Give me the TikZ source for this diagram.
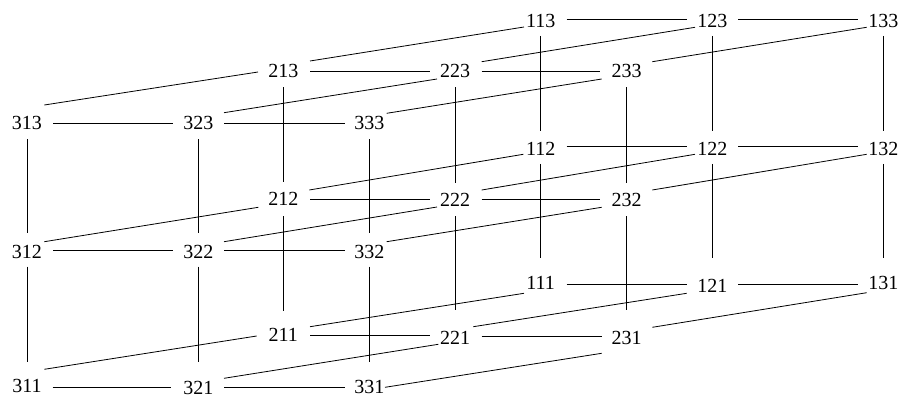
\documentclass[tikz,border=0pt]{standalone}
\usepackage{fontspec}
\setmainfont{Liberation Serif}
\usetikzlibrary{calc}
\tikzset{
  lbl/.style={inner sep=0pt, font=\fontsize{20}{24}\selectfont},
  edge/.style={line width=0.8pt, black}
}
\newcommand\seg[6]{\draw[edge] ($(#1)+(#2,#3)$) -- ($(#4)+(#5,#6)$);}
\begin{document}
\begin{tikzpicture}[x=1pt,y=-1pt]
\useasboundingbox (0,0) rectangle (905,401);
% layer 1
\node[lbl] (n113) at (540.7,21) {113};
\node[lbl] (n123) at (712.3,21) {123};
\node[lbl] (n133) at (883.3,21) {133};
\node[lbl] (n112) at (540.7,149) {112};
\node[lbl] (n122) at (712.3,149) {122};
\node[lbl] (n132) at (883.3,149) {132};
\node[lbl] (n111) at (540.7,283) {111};
\node[lbl] (n121) at (712.3,286) {121};
\node[lbl] (n131) at (883.3,283) {131};
% layer 2
\node[lbl] (n213) at (283.3,71) {213};
\node[lbl] (n223) at (455,71) {223};
\node[lbl] (n233) at (626.7,71) {233};
\node[lbl] (n212) at (283.3,199) {212};
\node[lbl] (n222) at (455,200) {222};
\node[lbl] (n232) at (626.7,200) {232};
\node[lbl] (n211) at (283.3,335) {211};
\node[lbl] (n221) at (455,338) {221};
\node[lbl] (n231) at (626.7,338) {231};
% layer 3
\node[lbl] (n313) at (27,123) {313};
\node[lbl] (n323) at (198.3,123) {323};
\node[lbl] (n333) at (369.3,123) {333};
\node[lbl] (n312) at (27,251.5) {312};
\node[lbl] (n322) at (198.3,251.5) {322};
\node[lbl] (n332) at (369.3,251.5) {332};
\node[lbl] (n311) at (27,386) {311};
\node[lbl] (n321) at (198.3,388) {321};
\node[lbl] (n331) at (369.3,387) {331};
% horizontal
\seg{n113}{26}{-2}{n123}{-25.6}{-2}
\seg{n123}{26}{-2}{n133}{-25}{-2}
\seg{n213}{26.7}{0}{n223}{-25}{0}
\seg{n223}{26.7}{0}{n233}{-26.7}{0}
\seg{n313}{26}{0}{n323}{-25.3}{0}
\seg{n323}{25.7}{0}{n333}{-24.6}{0}
\seg{n112}{26}{-2.3}{n122}{-25.6}{-2.3}
\seg{n122}{26}{-2.3}{n132}{-25}{-2.3}
\seg{n212}{26.7}{0}{n222}{-25}{-1}
\seg{n222}{26.7}{-1}{n232}{-26.7}{-1}
\seg{n312}{26}{-0.8}{n322}{-25.3}{-0.8}
\seg{n322}{25.7}{-0.8}{n332}{-24.6}{-0.8}
\seg{n111}{26}{1}{n121}{-25.6}{-2}
\seg{n121}{26}{-2}{n131}{-25}{1}
\seg{n211}{26.7}{0.7}{n221}{-25}{-2.3}
\seg{n221}{26.7}{-2}{n231}{-25}{-2}
\seg{n311}{25.7}{1.3}{n321}{-27.6}{-0.7}
\seg{n321}{25.7}{-0.7}{n331}{-24.3}{0.3}
% vertical
\seg{n313}{0}{16.3}{n312}{0}{-18.2}
\seg{n323}{0}{16.3}{n322}{0}{-18.2}
\seg{n333}{0}{16.3}{n332}{0}{-18.2}
\seg{n312}{0}{15.2}{n311}{0}{-24.3}
\seg{n322}{0}{15.2}{n321}{0}{-26.3}
\seg{n332}{0}{15.2}{n331}{0}{-25.3}
\seg{n213}{0}{16.3}{n212}{0}{-17}
\seg{n223}{0}{16.3}{n222}{0}{-17.3}
\seg{n233}{0}{16.3}{n232}{0}{-17.3}
\seg{n212}{0}{17}{n211}{0}{-24.3}
\seg{n222}{0}{16}{n221}{0}{-28}
\seg{n232}{0}{16}{n231}{0}{-28}
\seg{n113}{0}{15}{n112}{0}{-18.3}
\seg{n123}{0}{15}{n122}{0}{-18.3}
\seg{n133}{0}{15}{n132}{0}{-18.3}
\seg{n112}{0}{15}{n111}{0}{-25}
\seg{n122}{0}{15}{n121}{0}{-28}
\seg{n132}{0}{15}{n131}{0}{-25}
% depth 3 -> 2
\seg{n313}{17.3}{-18}{n213}{-25.3}{1}
\seg{n323}{25.7}{-10.3}{n223}{-18}{8}
\seg{n333}{17.4}{-9.7}{n233}{-25}{8}
\seg{n312}{17.3}{-9.8}{n212}{-25}{8.3}
\seg{n322}{25.7}{-9.8}{n222}{-18}{7}
\seg{n332}{17.4}{-9.8}{n232}{-25}{7.3}
\seg{n311}{17.3}{-16.7}{n211}{-26.6}{1}
\seg{n321}{25.7}{-9.7}{n221}{-16.7}{6.3}
\seg{n331}{15.7}{0.3}{n231}{-25}{15.3}
% depth 2 -> 1
\seg{n213}{26.7}{-10}{n113}{-16.7}{6}
\seg{n223}{26.7}{-9.3}{n123}{-17.3}{6.3}
\seg{n233}{25.6}{-9.3}{n133}{-16.6}{6.3}
\seg{n212}{26}{-9}{n112}{-17.4}{5.3}
\seg{n222}{26.7}{-10}{n122}{-17.3}{5.3}
\seg{n232}{25.6}{-10}{n132}{-16.6}{5.3}
\seg{n211}{26.7}{-8.3}{n111}{-16.7}{10.3}
\seg{n221}{18.3}{-11.3}{n121}{-25.6}{7.3}
\seg{n231}{25.6}{-10.7}{n131}{-16.6}{9.7}
\end{tikzpicture}
\end{document}
